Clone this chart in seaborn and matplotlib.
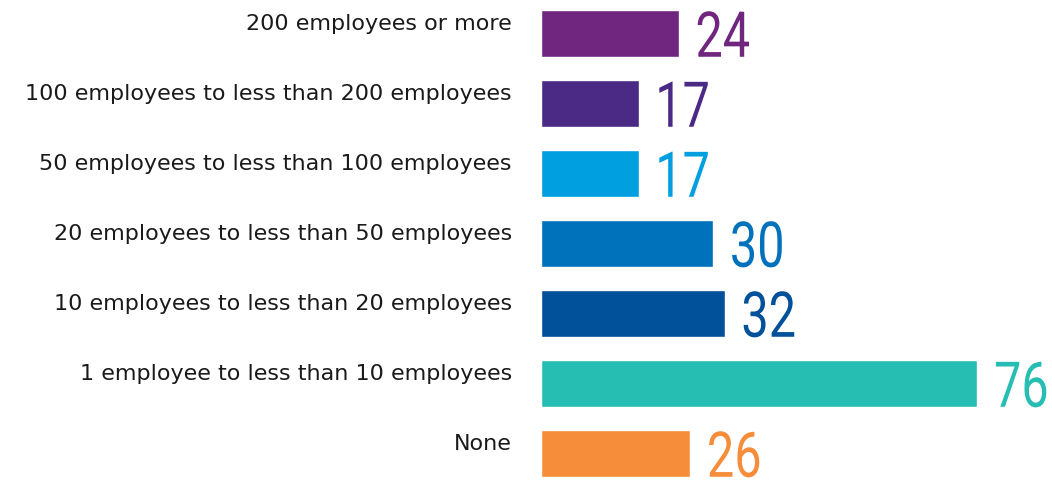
import matplotlib
matplotlib.use("Agg")
import matplotlib.pyplot as plt
import matplotlib.patheffects as pe
from matplotlib.transforms import Affine2D
import seaborn as sns
import pandas as pd

# Data
categories = [
    "200 employees or more",
    "100 employees to less than 200 employees",
    "50 employees to less than 100 employees",
    "20 employees to less than 50 employees",
    "10 employees to less than 20 employees",
    "1 employee to less than 10 employees",
    "None",
]
values = [24, 17, 17, 30, 32, 76, 26]
colors = ["#70267F", "#4A2A84", "#009FDF", "#0072BC", "#00509A", "#26BDB3", "#F68D3A"]

df = pd.DataFrame({"category": categories, "value": values})


class Tall(pe.AbstractPathEffect):
    # stretch glyphs vertically -> condensed look like the reference face,
    # while the text layout keeps the narrow width
    def __init__(self, sy=1.3):
        super().__init__()
        self.sy = sy

    def draw_path(self, renderer, gc, tpath, affine, rgbFace=None):
        renderer.draw_path(gc, tpath, Affine2D().scale(1, self.sy) + affine, rgbFace)


sns.set_style("white")
plt.rcParams["font.family"] = ["DejaVu Sans"]

fig = plt.figure(figsize=(10.52, 4.83), dpi=100)
ax = fig.add_axes([541 / 1052, 0, 511 / 1052, 1])

sns.barplot(data=df, x="value", y="category", hue="category", palette=colors,
            orient="h", width=0.67, legend=False, saturation=1, ax=ax)

ax.set_xlim(0, 89)
ax.set_ylim(6.424, -0.476)
ax.axis("off")

for i, (cat, v, c) in enumerate(zip(categories, values, colors)):
    # category label on the left
    ax.annotate(cat, xy=(0, i), xytext=(-21, 2.4), textcoords="offset points",
                ha="right", va="baseline", fontsize=16, color="#1a1a1a",
                annotation_clip=False)
    # big value label after bar
    ax.annotate(str(v), xy=(v, i + 0.335), xytext=(12, 0), textcoords="offset points",
                ha="left", va="baseline", fontsize=35, color=c,
                family=["Roboto", "DejaVu Sans"], fontweight="normal",
                path_effects=[Tall(1.3)],
                annotation_clip=False)

fig.savefig("out.png", dpi=100)
